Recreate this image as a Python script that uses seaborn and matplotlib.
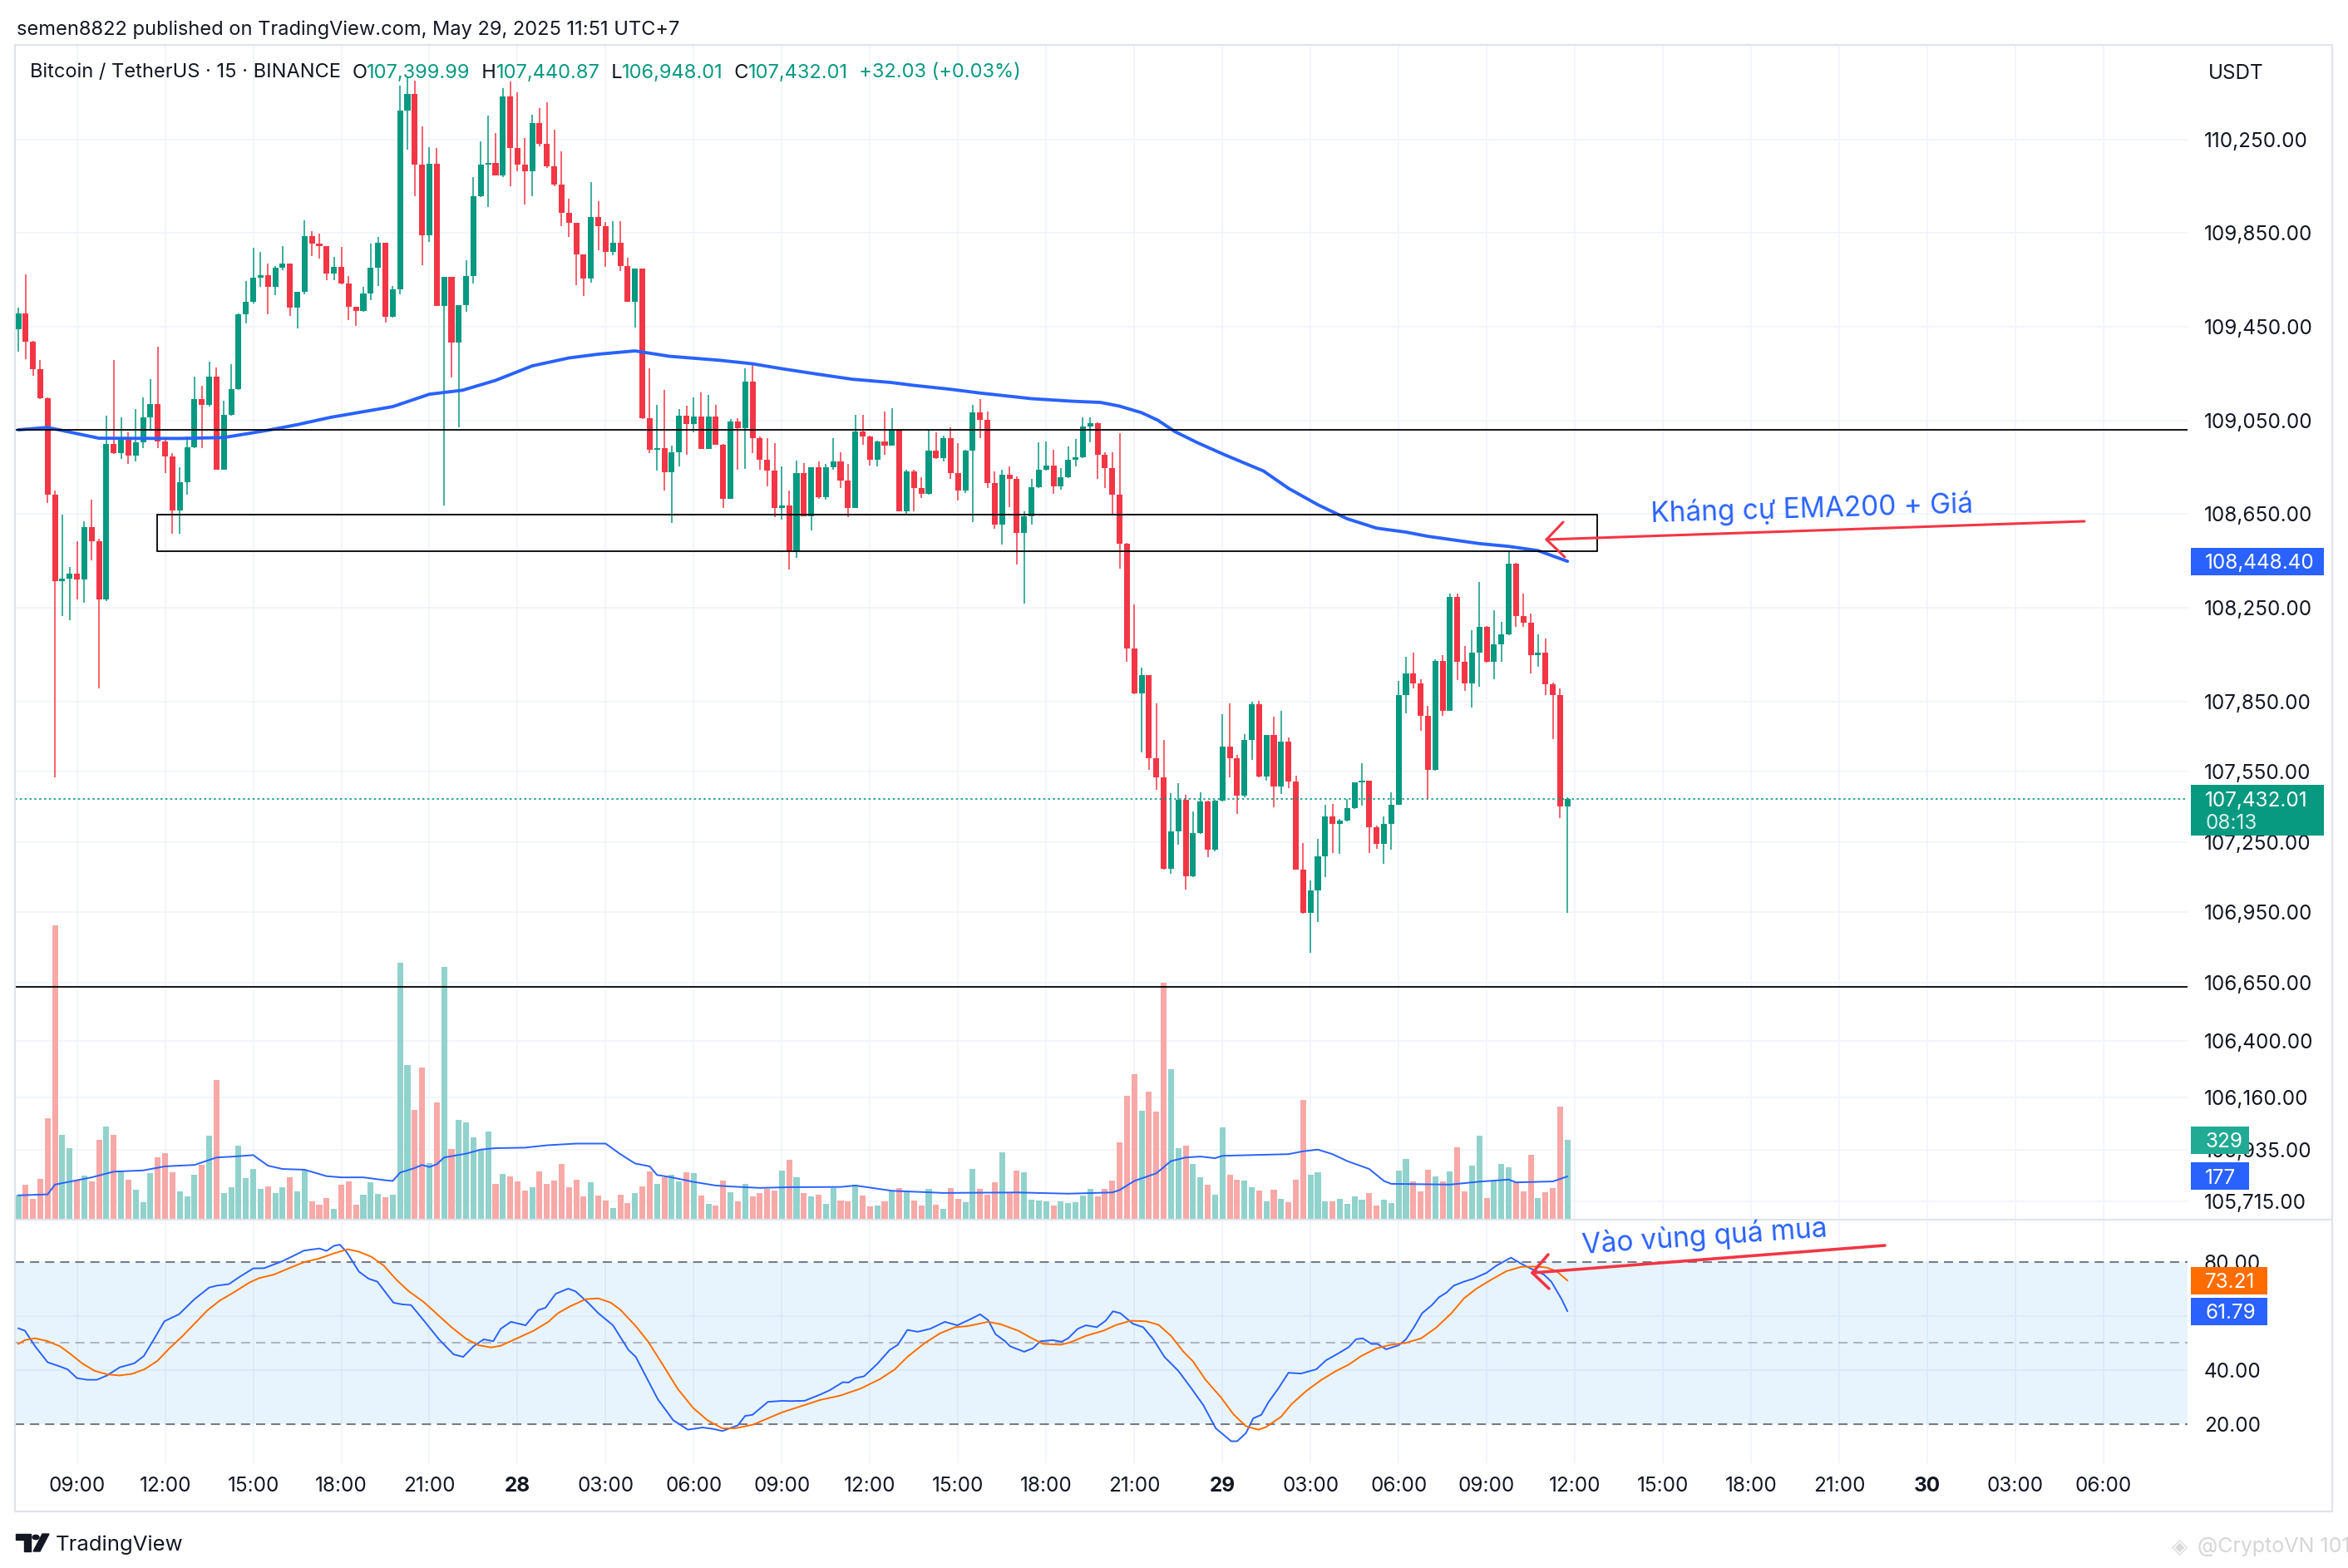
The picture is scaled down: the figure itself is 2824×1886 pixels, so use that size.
import numpy as np
import matplotlib
matplotlib.use("Agg")
import matplotlib.pyplot as plt
import matplotlib.transforms as mtransforms
from matplotlib.patches import Rectangle, Polygon, Circle
from matplotlib.lines import Line2D
import seaborn as sns

# ---------------- data (BTC/USDT 15m, 27 May 07:00 -> 29 May 11:45) ----------------
first_open = 109439
closes = [109507,109388,109270,109146,108734,108365,108376,108396,108372,108596,
          108535,108284,108950,108910,108967,108901,108956,109062,109119,108961,
          108895,108665,108787,108936,109140,109115,109236,108840,109073,109185,
          109503,109558,109660,109670,109619,109704,109721,109533,109598,109837,
          109806,109794,109676,109706,109635,109534,109516,109592,109704,109808,
          109492,109610,110372,110443,110141,109842,110145,109540,109663,109383,
          109544,109666,110007,110141,110150,110096,110433,110215,110141,110115,
          110320,110232,110137,110056,109937,109895,109759,109656,109919,109881,
          109769,109808,109708,109558,109698,109060,108924,108930,108830,108914,
          109070,109034,109066,108928,109066,108946,108715,109045,109017,109215,
          108975,108883,108837,108677,108685,108490,108825,108641,108850,108721,
          108850,108875,108794,108677,109002,108981,108883,108960,108943,109011,
          108662,108833,108762,108736,108921,108889,108975,108826,108749,108921,
          109083,109051,108783,108604,108818,108799,108569,108641,108765,108839,
          108858,108770,108807,108882,108892,109024,109038,108902,108847,108733,
          108524,108075,107886,107963,107607,107527,107135,107294,107431,107103,
          107287,107423,107218,107426,107657,107609,107448,107685,107837,107528,
          107707,107487,107678,107507,107133,106948,107042,107187,107360,107325,
          107340,107393,107506,107510,107313,107242,107325,107410,107876,107969,
          107928,107790,107557,108022,107811,108296,108020,107928,108057,108170,
          108020,108093,108137,108438,108214,108187,108049,108057,107925,107878,
          107399.99,107432.01]
highs = [109531,109674,109390,109309,109150,108750,108649,108425,108535,108620,
         108712,108545,109069,109309,109062,109001,109099,109148,109227,109364,
         108967,108910,108850,108981,109238,109199,109301,109276,109134,109291,
         109507,109645,109786,109770,109721,109708,109796,109721,109600,109904,
         109859,109847,109794,109748,109790,109666,109534,109621,109804,109832,
         109808,109624,110480,110520,110500,110306,110218,110214,109663,109663,
         109544,109734,110089,110242,110351,110277,110471,110496,110452,110256,
         110356,110384,110410,110291,110201,109998,109895,109759,110068,109986,
         109898,109902,109902,109745,109698,109698,109273,109117,109180,108943,
         109098,109114,109149,109170,109159,109117,108950,109056,109060,109273,
         109292,108981,108975,108954,108853,108750,108880,108869,108850,108875,
         108863,108974,108914,108863,109073,109073,108985,108963,109088,109103,
         109011,108839,108839,108807,109011,108999,108985,109019,108952,108926,
         109116,109140,109088,108831,108839,108855,108810,108662,108802,108958,
         108960,108923,108845,108939,108971,109062,109062,109043,108915,108915,
         108997,108527,108263,107995,107963,107842,107685,107459,107501,107451,
         107379,107463,107425,107428,107797,107842,107620,107709,107849,107853,
         107707,107786,107810,107696,107531,107245,107086,107262,107410,107413,
         107348,107434,107506,107587,107510,107319,107360,107463,107937,108040,
         108057,107943,107831,108031,108047,108312,108310,108087,108153,108361,
         108173,108241,108188,108494,108443,108312,108226,108137,108120,107931,
         107904,107440.87]
lows = [109344,109313,109242,109140,108698,107526,108213,108196,108284,108270,
        108451,107907,108278,108906,108885,108865,108875,108930,109013,108932,
        108824,108565,108565,108732,108930,108932,109109,108840,108840,109069,
        109181,109466,109548,109619,109503,109586,109690,109495,109442,109588,
        109751,109741,109649,109649,109631,109477,109453,109513,109565,109624,
        109467,109490,109590,110208,110007,109713,109811,109540,108685,109232,
        109022,109513,109635,110004,109962,110096,110089,110052,110113,109972,
        110007,110222,110127,110052,109881,109835,109628,109583,109638,109778,
        109705,109757,109687,109558,109446,109055,108910,108836,108750,108612,
        108853,108904,108999,108928,108928,108946,108677,108715,108839,108843,
        108910,108839,108768,108638,108626,108413,108464,108641,108581,108715,
        108712,108839,108762,108638,108677,108946,108857,108853,108904,108943,
        108662,108646,108662,108718,108732,108887,108875,108802,108709,108741,
        108617,108974,108762,108588,108521,108678,108435,108268,108604,108762,
        108836,108735,108755,108805,108855,108890,108955,108799,108762,108653,
        108416,108019,107882,107632,107556,107472,107130,107114,107238,107046,
        107100,107285,107186,107210,107424,107527,107368,107439,107599,107524,
        107511,107398,107454,107481,107131,106944,106775,106907,107101,107204,
        107198,107337,107390,107405,107204,107219,107158,107215,107407,107798,
        107905,107723,107433,107554,107790,107808,107941,107894,107825,107914,
        108016,107945,108020,108134,108167,108170,107970,107998,107878,107688,
        107352,106948.01]
volumes = [102,142,85,168,420,1224,351,295,158,181,
           156,330,386,351,197,164,123,70,190,257,
           275,196,115,95,184,225,348,580,108,133,
           307,171,209,126,136,108,133,173,115,205,
           73,60,88,42,143,156,60,101,151,105,
           89,101,1070,643,456,633,234,487,1050,292,
           414,401,341,292,363,146,189,178,156,118,
           133,199,146,161,230,133,164,95,154,96,
           77,45,101,67,108,136,199,145,173,184,
           155,196,192,96,63,54,161,111,73,146,
           92,108,126,117,202,247,175,108,95,101,
           63,129,77,73,143,98,51,54,73,114,
           129,110,77,56,126,60,42,129,83,69,
           209,124,99,151,279,107,202,194,80,77,
           73,56,73,66,69,98,124,95,124,161,
           320,512,605,452,531,449,987,626,295,307,
           230,174,142,99,383,184,164,161,133,118,
           73,123,83,70,164,497,184,196,73,73,
           83,61,95,80,108,54,80,67,202,251,
           156,115,206,178,156,199,300,115,221,348,
           88,161,230,216,151,115,268,88,111,129,
           469,329]

ema_idx = [0,4,11,22,28,34,38,42.5,51,56, 60.5,65,70,75,79,84,88.7,95.5,100,104,
           109,113.6,118.9,121.9,127,131,138,143.6,147.4,150, 153,155.2,157.5,160.6,164.4,169.6,173,177,181,185,
           189,192,199,203,207,211]
ema_val = [109010,109020,108974,108973,108977,109008,109032,109063,109109,109162,
           109179,109221,109283,109317,109333,109347,109324,109307,109292,109271,
           109247,109226,109212,109200,109183,109167,109143,109132,109127,109111,
           109083,109051,109003,108955,108902,108834,108760,108690,108630,108590,
           108573,108555,108524,108512,108494,108448.40]

vma_idx = [0,4,5,8,10,13,17,20,24,27, 29.4,32,34,36,39,42,44,47,50,51,
           52,54,55,56,57,58,61,63,65,69, 72,76,80,82,84,86,87,89,92,95,
           97,101,105,112,114,119,126,136,143,149, 150,152,155,157,159,161,163,164,173,175,
           177,179,181,184,186,187,195,199,203,204, 209,211]
vma_val = [98,102,143,161,173,197,202,219,225,256, 260,266,222,208,205,178,173,173,161,158,
           193,212,225,216,228,256,272,289,295,297, 307,314,314,270,231,219,183,173,154,139,
           135,129,132,133,139,117,108,110,105,110, 120,158,190,241,256,260,253,263,270,282,
           289,270,241,208,158,146,143,155,164,152, 156,177]

k_idx = [0,0.9,2.3,4.0,5.7,6.7,8.0,9.4,10.7,12.1, 13.8,15.8,17.1,18.6,19.9,21.9,24.0,26.0,27.0,28.7,
         30.1,32.0,33.5,35.9,37.2,38.9,41.0,42.0,43.0,43.8, 44.7,46.4,47.7,48.9,51.1,52.2,53.5,55.2,57.3,59.3,
         60.6,62.0,63.4,64.7,65.7,67.1,69.1,70.8,71.8,73.2, 74.9,75.9,77.6,79.0,81.0,83.1,84.1,87.1,89.2,91.2,
         93.2,94.6,95.9,98.0,99.0,100.0,102.1,104.1,105.1,107.1, 109.2,110.5,112.3,113.1,114.0,115.2,117.0,118.7,119.8,121.1,
         122.5,124.2,126.2,127.9,129.7,131.0,132.1,133.1,134.4,135.1, 137.0,138.2,139.2,140.9,142.1,143.0,144.3,145.4,146.9,148.1,
         149.1,150.1,151.8,153.2,154.6,156.1,158.0,159.7,161.4,163.1, 165.2,166.0,167.2,168.2,169.3,170.3,171.6,173.0,174.7,176.8,
         178.1,179.8,181.2,182.2,183.1,184.3,185.1,186.3,188.0,189.0, 190.1,191.2,192.5,193.5,194.5,195.5,196.9,198.2,200.0,201.3,
         203.3,204.8,206.2,207.8,208.8,210.2,211.0]
k_val = [55.5,54.6,48.8,42.9,41.3,40.3,37.0,36.4,36.4,38.0, 41.0,42.5,45.2,52.0,58.1,60.7,66.3,70.6,71.3,71.9,
         74.5,77.7,77.8,80.3,82.0,84.3,85.1,84.2,86.1,86.5, 83.9,76.5,73.9,72.8,65.0,64.4,64.1,58.5,51.4,45.8,
         44.9,48.8,51.4,50.7,55.3,57.9,56.6,62.2,63.1,68.3, 70.2,69.2,65.0,61.1,56.6,47.5,44.9,29.2,21.4,17.9,
         18.7,18.2,17.4,19.5,23.0,23.4,28.2,28.6,28.5,28.6, 30.9,32.5,35.5,35.4,37.0,37.7,42.3,47.5,49.4,54.9,
         54.2,55.3,57.9,56.6,58.9,60.7,58.5,53.3,50.7,48.8, 46.8,48.1,50.7,51.1,50.5,51.8,55.3,56.6,55.9,58.3,
         61.8,61.1,57.2,55.9,51.4,44.9,39.7,33.5,27.0,18.4, 13.6,13.6,16.6,22.1,23.4,28.2,33.1,39.0,38.7,40.3,
         43.6,46.2,48.5,51.4,51.8,49.7,49.7,47.7,49.2,51.4, 55.9,61.1,64.0,67.0,68.7,71.3,72.8,73.9,76.1,78.7,
         81.7,79.3,77.4,75.4,72.8,66.3,61.79]

d_idx = [0,0.9,2.3,4.0,5.7,7.0,8.7,10.4,12.1,13.8, 15.5,17.2,18.9,20.6,22.3,24.0,25.7,27.4,29.4,31.5,
         32.8,34.8,36.9,38.9,41.0,43.0,44.9,46.4,48.1,49.8, 51.5,53.2,55.2,57.3,59.0,61.0,62.7,64.4,65.7,67.8,
         70.2,72.2,73.5,75.2,77.3,79.0,80.7,82.0,84.1,85.8, 87.8,89.8,91.9,93.9,95.9,97.6,100.0,102.1,104.1,106.5,
         109.2,111.9,114.7,117.4,119.4,121.1,123.5,125.6,127.6,129.3, 132.1,133.8,136.2,137.9,139.6,142.0,143.3,145.4,147.8,149.5,
         151.5,153.6,155.3,157.0,158.7,160.0,161.7,163.8,165.5,167.2, 168.9,169.9,172.0,173.4,175.4,177.5,179.5,181.2,182.9,185.0,
         187.0,189.0,191.1,193.1,195.2,196.9,198.6,200.6,202.7,204.7, 206.8,208.2,209.5,211.0]
d_val = [49.7,51.1,51.8,50.7,48.8,46.2,42.5,39.7,38.4,38.0, 38.6,40.3,43.3,48.1,52.4,57.2,62.0,65.7,68.9,72.5,
         74.1,75.4,77.8,80.0,81.4,83.3,84.8,83.9,82.0,78.7, 73.5,69.2,65.3,60.1,55.9,51.6,49.2,48.4,49.0,51.6,
         54.6,57.9,61.1,63.7,66.3,66.6,65.0,62.4,56.3,50.5, 41.9,33.1,26.0,21.3,18.4,18.4,19.7,22.1,24.4,26.5,
         28.9,30.5,33.1,36.7,40.3,44.9,50.1,53.7,55.9,56.3, 57.9,57.0,54.6,52.0,49.7,49.4,50.3,52.7,54.6,56.7,
         58.3,58.1,56.8,52.7,46.8,43.2,36.4,29.9,23.6,19.2, 17.9,18.8,22.7,27.3,32.2,36.4,39.7,42.0,45.2,48.1,
         49.4,50.1,51.8,55.7,61.1,66.6,70.2,73.5,76.7,78.3, 78.4,78.0,76.7,73.21]

price_ticks = [110250,109850,109450,109050,108650,108250,107850,107550,107250,106950,
               106650,106400,106160,105935,105715]
stoch_ticks = [20, 40, 60, 80]
time_labels = ["09:00","12:00","15:00","18:00","21:00","28","03:00","06:00",
               "09:00","12:00","15:00","18:00","21:00","29","03:00","06:00",
               "09:00","12:00","15:00","18:00","21:00","30","03:00","06:00"]
resistance_line = 109010
support_line = 106632
zone_low, zone_high = 108492, 108646
zone_start, zone_end = 18.9, 215.1
change_text = "+32.03 (+0.03%)"
countdown = "08:13"
title_text = "semen8822 published on TradingView.com, May 29, 2025 11:51 UTC+7"
symbol_text = "Bitcoin / TetherUS · 15 · BINANCE"
note_resist = "Kháng cự EMA200 + Giá"
note_stoch = "Vào vùng quá mua"

# ---------------- style ----------------
GREEN = '#089981'; RED = '#F23645'
VGREEN = '#92D2CC'; VRED = '#F7A9A7'
BLUE = '#2962FF'; ORANGE = '#FF6D00'
TEXT = '#131722'; GRID = '#F0F3FA'; BORDER = '#E0E3EB'
FS = 17.5

sns.set_theme(style="white")
plt.rcParams['font.family'] = ['Inter', 'DejaVu Sans']

W, H = 2824, 1886
fig = plt.figure(figsize=(W / 100, H / 100), dpi=100)
fig.patch.set_facecolor('white')

def rect(x0, y0, x1, y1):
    return [x0 / W, 1 - y1 / H, (x1 - x0) / W, (y1 - y0) / H]

PL, PR, PT, PM, PB = 18, 2631, 54, 1466, 1760
ax_vol = fig.add_axes(rect(PL, PT, PR, PM))
ax = fig.add_axes(rect(PL, PT, PR, PM))
ax_st = fig.add_axes(rect(PL, PM, PR, PB))
ax.patch.set_visible(False)

XL = (-0.45, 295.45)
for a in (ax, ax_vol, ax_st):
    a.set_xlim(*XL)
    for s in a.spines.values():
        s.set_visible(False)
ax.set_ylim(105640, 110654)
ax_vol.set_ylim(0, 4900)
ax_st.set_ylim(5.44, 96.1)

o = np.array([first_open] + closes[:-1], dtype=float)
c = np.array(closes, dtype=float)
h = np.array(highs, dtype=float)
l = np.array(lows, dtype=float)
v = np.array(volumes, dtype=float)
idx = np.arange(len(c))
up = c >= o
col = np.where(up, GREEN, RED)
vcol = np.where(up, VGREEN, VRED)

tick_pos = [8 + 12 * k for k in range(len(time_labels))]

# grid
for tp in tick_pos:
    ax_vol.axvline(tp, color=GRID, lw=1.2, zorder=0)
    ax_st.axvline(tp, color=GRID, lw=1.2, zorder=0)
blend = mtransforms.blended_transform_factory(ax_vol.transAxes, ax.transData)
for pt in price_ticks:
    ax_vol.plot([0, 1], [pt, pt], transform=blend, color=GRID, lw=1.2, zorder=0)
for sv in (40, 60):
    ax_st.axhline(sv, color=GRID, lw=1.2, zorder=0)

# volume
ax_vol.bar(idx, v, width=0.8, color=vcol, linewidth=0, zorder=2)
sns.lineplot(x=vma_idx, y=vma_val, ax=ax_vol, color=BLUE, linewidth=1.4, zorder=3)

# candles
ax.vlines(idx, np.minimum(l, np.minimum(o, c)), np.maximum(h, np.maximum(o, c)),
          colors=col, lw=1.1, zorder=2)
body = np.maximum(np.abs(c - o), 6)
ax.bar(idx, body, bottom=np.minimum(o, c), width=0.8, color=col, linewidth=0, zorder=3)
sns.lineplot(x=ema_idx, y=ema_val, ax=ax, color=BLUE, linewidth=2.8, zorder=5)

ax.axhline(resistance_line, color='black', lw=1.3, zorder=6)
ax.axhline(support_line, color='black', lw=1.3, zorder=6)
ax.add_patch(Rectangle((zone_start, zone_low), zone_end - zone_start, zone_high - zone_low,
                       fill=False, edgecolor='black', lw=1.3, zorder=6, clip_on=False))
ax.axhline(c[-1], color=GREEN, lw=1.2, ls=(0, (1.5, 2)), zorder=4)

# stochastic RSI
ax_st.axhspan(20, 80, color='#2196F3', alpha=0.1, lw=0, zorder=0)
for lv, al in ((80, 1.0), (50, 0.5), (20, 1.0)):
    ax_st.axhline(lv, color='#787B86', alpha=al, lw=1.5, ls=(0, (5.3, 3.4)), zorder=1)
sns.lineplot(x=k_idx, y=k_val, ax=ax_st, color=BLUE, linewidth=1.4, zorder=3)
sns.lineplot(x=d_idx, y=d_val, ax=ax_st, color=ORANGE, linewidth=1.4, zorder=3)

# axes ticks
ax.set_xticks([]); ax_vol.set_xticks([]); ax_vol.set_yticks([])
ax.yaxis.tick_right()
ax.set_yticks(price_ticks)
ax.set_yticklabels([f"{p:,.2f}" for p in price_ticks])
ax.tick_params(axis='y', length=0, pad=14.4, labelsize=FS, labelcolor=TEXT)
ax_st.yaxis.tick_right()
ax_st.set_yticks(stoch_ticks)
ax_st.set_yticklabels([f"{s:.2f}" for s in stoch_ticks])
ax_st.tick_params(axis='y', length=0, pad=14.4, labelsize=FS, labelcolor=TEXT)
ax_st.set_xticks(tick_pos)
ax_st.set_xticklabels(time_labels)
ax_st.tick_params(axis='x', length=0, pad=11.5, labelsize=FS, labelcolor=TEXT)
for tl in ax_st.get_xticklabels():
    if len(tl.get_text()) <= 2:
        tl.set_fontweight('bold')
for a in (ax, ax_vol, ax_st):
    a.set_xlabel(''); a.set_ylabel('')

# frame lines
def fline(xs, ys, **kw):
    fig.add_artist(Line2D([x / W for x in xs], [1 - y / H for y in ys],
                          transform=fig.transFigure, **kw))
for ys in (54, 1467, 1818):
    fline([PL, 2805], [ys, ys], color=BORDER, lw=1.5, zorder=1)
fline([PL, PL], [54, 1818], color=BORDER, lw=1.5, zorder=1)
fline([2805, 2805], [54, 1818], color=BORDER, lw=1.5, zorder=1)

def ftext(x, y, s, **kw):
    return fig.text(x / W, 1 - y / H, s, **kw)

# header
ftext(20, 33, title_text, fontsize=17, color=TEXT, va='center_baseline')
pieces = [(symbol_text + "  ", TEXT), ("O", TEXT), (f"{o[-1]:,.2f}", GREEN),
          ("  H", TEXT), (f"{h[-1]:,.2f}", GREEN), ("  L", TEXT), (f"{l[-1]:,.2f}", GREEN),
          ("  C", TEXT), (f"{c[-1]:,.2f}", GREEN), ("  " + change_text, GREEN)]
t = ftext(36, 85, pieces[0][0], fontsize=17, color=pieces[0][1], va='center_baseline')
for s, cc in pieces[1:]:
    t = ax.annotate(s, xy=(1, 0), xycoords=t, xytext=(0, 0), textcoords='offset points',
                    fontsize=17, color=cc, va='bottom', ha='left', annotation_clip=False)
ftext(2656, 86, "USDT", fontsize=FS, color=TEXT, va='center_baseline')

# value boxes on the scale
def ypix(axis, val):
    return H - axis.transData.transform((0, val))[1]

def box(x0, x1, y0, y1, color):
    fig.add_artist(Rectangle((x0 / W, 1 - y1 / H), (x1 - x0) / W, (y1 - y0) / H,
                             transform=fig.transFigure, facecolor=color,
                             edgecolor='none', zorder=10))

ye = ypix(ax, ema_val[-1])
box(2635, 2795, ye - 16.5, ye + 16.5, BLUE)
ftext(2652, ye, f"{ema_val[-1]:,.2f}", fontsize=FS, color='white', va='center_baseline', zorder=11)
yc = ypix(ax, c[-1])
box(2635, 2795, yc - 17, yc + 44, GREEN)
ftext(2652, yc, f"{c[-1]:,.2f}", fontsize=FS, color='white', va='center_baseline', zorder=11)
ftext(2652, yc + 27, countdown, fontsize=FS, color='#D8F0EC', va='center_baseline', zorder=11)
yv = ypix(ax_vol, v[-1])
box(2635, 2705, yv - 16.5, yv + 16.5, '#22AB94')
ftext(2652, yv, f"{int(v[-1])}", fontsize=FS, color='white', va='center_baseline', zorder=11)
ym = ypix(ax_vol, vma_val[-1])
box(2635, 2705, ym - 16.5, ym + 16.5, BLUE)
ftext(2652, ym, f"{int(vma_val[-1])}", fontsize=FS, color='white', va='center_baseline', zorder=11)
yd = ypix(ax_st, d_val[-1])
box(2635, 2727, yd - 16.5, yd + 16.5, ORANGE)
ftext(2652, yd, f"{d_val[-1]:.2f}", fontsize=FS, color='white', va='center_baseline', zorder=11)
yk = ypix(ax_st, k_val[-1])
box(2635, 2727, yk - 16.5, yk + 16.5, BLUE)
ftext(2652, yk, f"{k_val[-1]:.2f}", fontsize=FS, color='white', va='center_baseline', zorder=11)

# hand-drawn notes
ftext(1986, 628, note_resist, fontsize=24, color=BLUE, rotation=1.7,
      rotation_mode='anchor', ha='left', va='baseline', zorder=12)
fline([2507, 1860], [627, 649], color=RED, lw=2.2, zorder=12, solid_capstyle='round')
fline([1880, 1860, 1882], [628, 649, 670], color=RED, lw=2.2, zorder=12,
      solid_capstyle='round', solid_joinstyle='round')
ftext(1904, 1508, note_stoch, fontsize=24, color=BLUE, rotation=4.0,
      rotation_mode='anchor', ha='left', va='baseline', zorder=12)
fline([2267, 1843], [1498, 1531], color=RED, lw=2.6, zorder=12, solid_capstyle='round')
fline([1862, 1843, 1863], [1509, 1531, 1550], color=RED, lw=2.6, zorder=12,
      solid_capstyle='round', solid_joinstyle='round')

# footer: logo + watermark
def fpoly(pts, **kw):
    fig.add_artist(Polygon([(x / W, 1 - y / H) for x, y in pts], closed=True,
                           transform=fig.transFigure, **kw))
fpoly([(19, 1845), (37, 1845), (37, 1866), (29, 1866), (29, 1852), (19, 1852)], color=TEXT)
fig.add_artist(Circle((43 / W, 1 - 1849 / H), 4.0 / W, transform=fig.transFigure, color=TEXT))
fpoly([(40, 1866), (48, 1866), (59, 1845), (51, 1845)], color=TEXT)
ftext(67, 1856, "TradingView", fontsize=18.5, color=TEXT, va='center_baseline')
ftext(2612, 1858, "◈", fontsize=18, color='#DADADA', va='center_baseline',
      family=['DejaVu Sans'])
ftext(2643, 1858, "@CryptoVN 101", fontsize=18, color='#D6D6D6', va='center_baseline')

fig.savefig("out.png", dpi=100, facecolor='white')
